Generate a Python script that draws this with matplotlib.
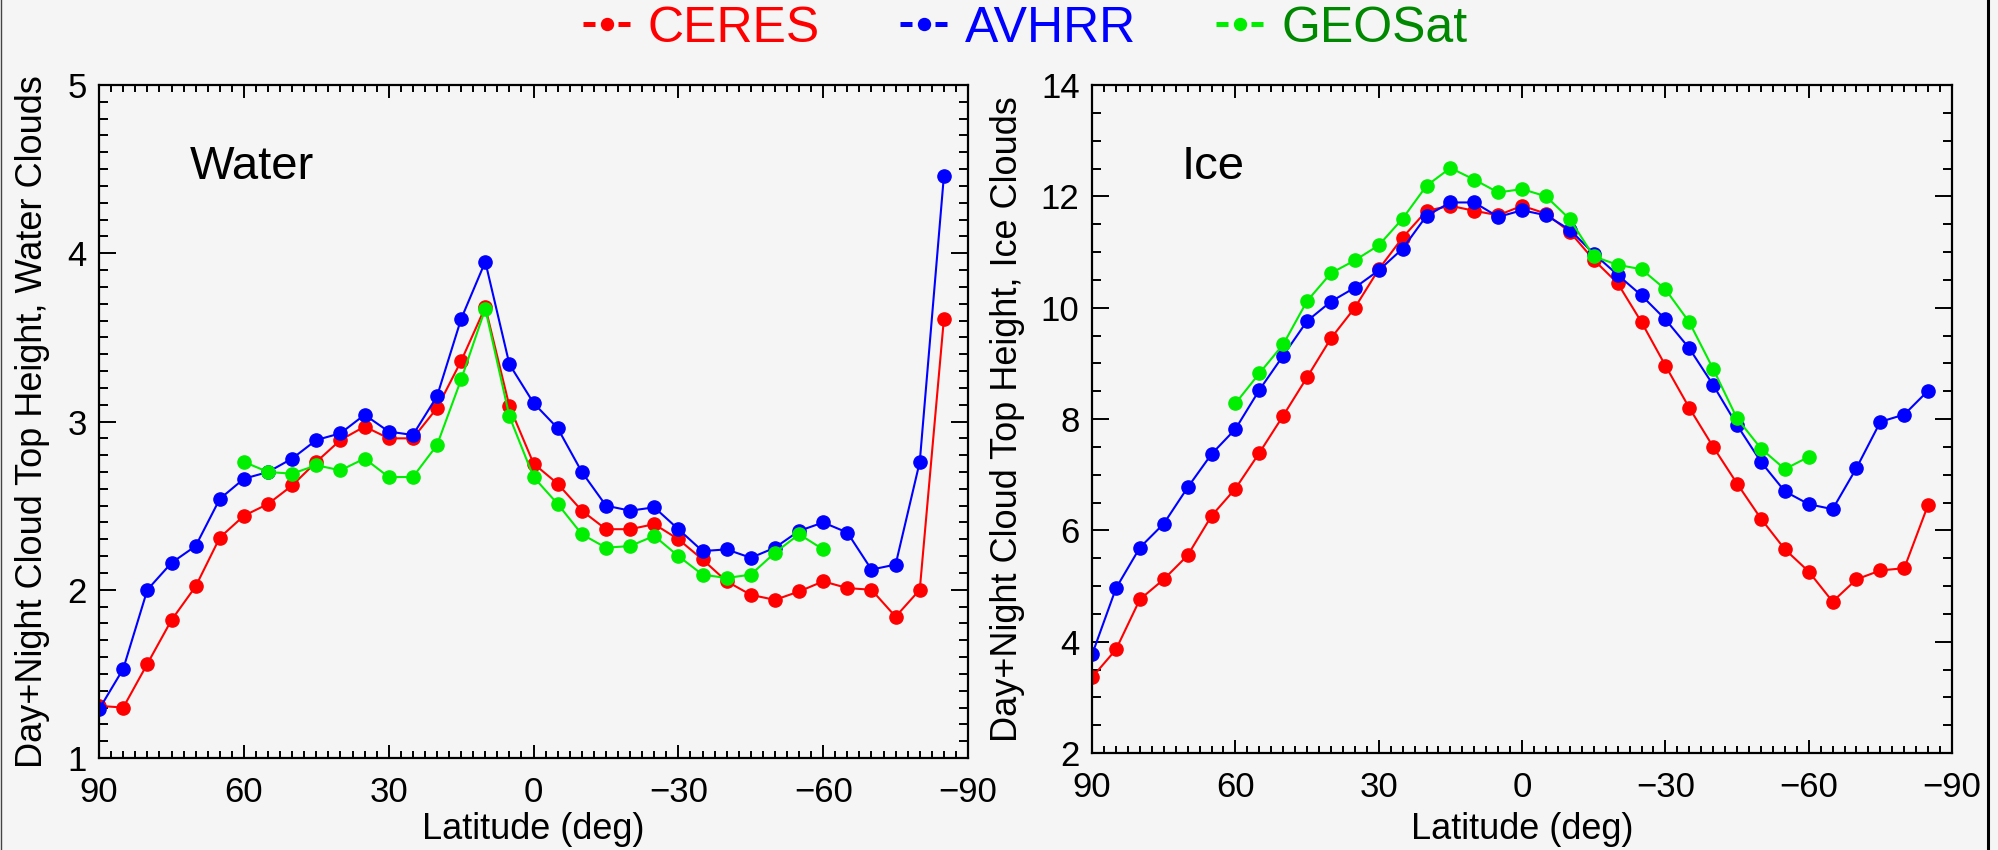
import matplotlib
matplotlib.use("Agg")
import matplotlib.pyplot as plt
from matplotlib.lines import Line2D
from matplotlib.ticker import MultipleLocator

plt.rcParams['font.family'] = ['Liberation Sans', 'DejaVu Sans']

# latitude bins (deg), 90N -> 85S
lat = [90, 85, 80, 75, 70, 65, 60, 55, 50, 45, 40, 35, 30, 25, 20, 15, 10, 5,
       0, -5, -10, -15, -20, -25, -30, -35, -40, -45, -50, -55, -60, -65, -70,
       -75, -80, -85]
# GEOSat only covers 60N..60S
lat_geo = [60, 55, 50, 45, 40, 35, 30, 25, 20, 15, 10, 5, 0, -5, -10, -15, -20,
           -25, -30, -35, -40, -45, -50, -55, -60]

# water clouds
ceres_water = [1.31, 1.30, 1.56, 1.82, 2.02, 2.31, 2.44, 2.51, 2.62, 2.76, 2.89,
               2.97, 2.90, 2.90, 3.08, 3.36, 3.68, 3.09, 2.75, 2.63, 2.47, 2.36,
               2.36, 2.39, 2.30, 2.18, 2.05, 1.97, 1.94, 1.99, 2.05, 2.01, 2.00,
               1.84, 2.00, 3.61]
avhrr_water = [1.29, 1.53, 2.00, 2.16, 2.26, 2.54, 2.66, 2.70, 2.78, 2.89, 2.93,
               3.04, 2.94, 2.92, 3.15, 3.61, 3.95, 3.34, 3.11, 2.96, 2.70, 2.50,
               2.47, 2.49, 2.36, 2.23, 2.24, 2.19, 2.25, 2.35, 2.40, 2.34, 2.12,
               2.15, 2.76, 4.46]
geosat_water = [2.76, 2.70, 2.69, 2.74, 2.71, 2.78, 2.67, 2.67, 2.86, 3.25, 3.67,
                3.03, 2.67, 2.51, 2.33, 2.25, 2.26, 2.32, 2.20, 2.09, 2.07, 2.09,
                2.22, 2.33, 2.24]

# ice clouds
ceres_ice = [3.36, 3.86, 4.76, 5.12, 5.55, 6.26, 6.75, 7.39, 8.06, 8.75, 9.45,
             10.00, 10.69, 11.26, 11.74, 11.83, 11.74, 11.66, 11.83, 11.69, 11.36,
             10.86, 10.44, 9.74, 8.96, 8.20, 7.50, 6.84, 6.21, 5.66, 5.26, 4.72,
             5.12, 5.28, 5.32, 6.46]
avhrr_ice = [3.77, 4.96, 5.69, 6.12, 6.77, 7.37, 7.82, 8.52, 9.14, 9.76, 10.11,
             10.36, 10.67, 11.06, 11.65, 11.89, 11.89, 11.63, 11.75, 11.66, 11.40,
             10.97, 10.59, 10.22, 9.79, 9.27, 8.61, 7.89, 7.23, 6.70, 6.47, 6.38,
             7.12, 7.95, 8.08, 8.51]
geosat_ice = [8.28, 8.82, 9.34, 10.12, 10.62, 10.85, 11.12, 11.60, 12.19, 12.51,
              12.30, 12.07, 12.13, 12.00, 11.59, 10.92, 10.77, 10.69, 10.33, 9.74,
              8.90, 8.01, 7.47, 7.10, 7.32]

names = ['CERES', 'AVHRR', 'GEOSat']
line_colors = ['#ff0000', '#0000ff', '#00ee00']
text_colors = ['#ff0000', '#0000ff', '#008800']

bg = '#f5f5f5'
fig = plt.figure(figsize=(19.98, 8.5), dpi=100, facecolor=bg)
ax1 = fig.add_axes([0.0496, 0.1082, 0.4349, 0.7918], facecolor=bg)
ax2 = fig.add_axes([0.5466, 0.1141, 0.4304, 0.7859], facecolor=bg)


def draw_panel(ax, series, ylim, ymajor, yminor, ylabel, title):
    for (x, y), c in zip(series, line_colors):
        ax.plot(x, y, color=c, lw=1.5, marker='o', ms=9.5, mec=c, mfc=c)
    ax.set_xlim(90, -90)
    ax.set_ylim(*ylim)
    ax.xaxis.set_major_locator(MultipleLocator(30))
    ax.xaxis.set_minor_locator(MultipleLocator(2.5))
    ax.yaxis.set_major_locator(MultipleLocator(ymajor))
    ax.yaxis.set_minor_locator(MultipleLocator(yminor))
    ax.tick_params(which='both', direction='in', top=True, right=True,
                   width=1.4, labelsize=25, colors='black')
    ax.tick_params(axis='y', which='major', length=12, pad=9)
    ax.tick_params(axis='y', which='minor', length=6.5)
    ax.tick_params(axis='x', which='major', length=9.5, pad=13)
    ax.tick_params(axis='x', which='minor', length=5)
    for s in ax.spines.values():
        s.set_linewidth(1.6)
    ax.set_xlabel('Latitude (deg)', fontsize=26)
    ax.set_ylabel(ylabel, fontsize=26)
    ax.text(0.104, 0.86, title, transform=ax.transAxes, fontsize=34,
            ha='left', va='baseline')


draw_panel(ax1, [(lat, ceres_water), (lat, avhrr_water), (lat_geo, geosat_water)],
           (1, 5), 1, 0.1, 'Day+Night Cloud Top Height, Water Clouds', 'Water')
draw_panel(ax2, [(lat, ceres_ice), (lat, avhrr_ice), (lat_geo, geosat_ice)],
           (2, 14), 2, 0.5, 'Day+Night Cloud Top Height, Ice Clouds', 'Ice')

ax1.yaxis.set_label_coords(-0.056, 0.5)
ax2.yaxis.set_label_coords(-0.078, 0.5)
ax1.xaxis.set_label_coords(0.5, -0.08)
ax2.xaxis.set_label_coords(0.5, -0.088)

# legend strip on top: "-•- NAME"
handles = [Line2D([], [], color=c, lw=3.6, dashes=(2.4, 4.6), marker='o', ms=8.6,
                  mec=c, mfc=c) for c in line_colors]
fig.legend(handles, names, ncol=3, loc='center', bbox_to_anchor=(0.513, 0.966),
           frameon=False, fontsize=36, handlelength=0.95, handletextpad=0.35,
           columnspacing=1.6, numpoints=1, labelcolor=text_colors)

# frame lines at the image edges
fig.add_artist(Line2D([0.0006, 0.0006], [0, 1], transform=fig.transFigure,
                      color='#444444', lw=1))
fig.add_artist(Line2D([0.9952, 0.9952], [0, 1], transform=fig.transFigure,
                      color='black', lw=2.2))

fig.savefig('out.png', dpi=100, facecolor=bg)
